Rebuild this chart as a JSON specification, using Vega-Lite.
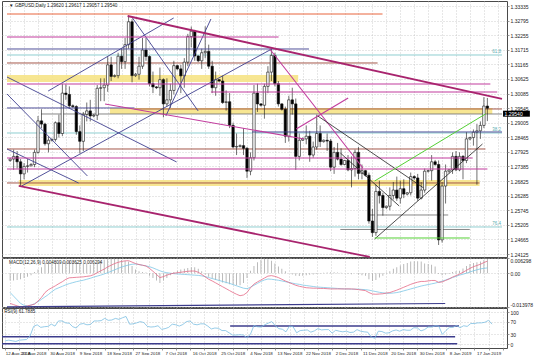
{
"$schema":"https://vega.github.io/schema/vega-lite/v6.json",
"padding":0,
"background":"#ffffff",
"spacing":1,
"bounds":"flush",
"config":{"view":{"stroke":"#4a4a4a","strokeWidth":1},"font":"Liberation Sans","axis":{"labelOverlap":false}},
"datasets":{
"bars":[
{"i":0,"o":1.2760,"h":1.2768,"l":1.2755,"c":1.2765,"m":-0.0125,"s":-0.0080,"d":-0.0030,"r":10},
{"i":1,"o":1.2765,"h":1.2800,"l":1.2725,"c":1.2775,"m":-0.0130,"s":-0.0095,"d":-0.0030,"r":12},
{"i":2,"o":1.2775,"h":1.2795,"l":1.2730,"c":1.2755,"m":-0.0135,"s":-0.0110,"d":-0.0028,"r":10},
{"i":3,"o":1.2755,"h":1.2765,"l":1.2662,"c":1.2710,"m":-0.0139,"s":-0.0125,"d":-0.0025,"r":8},
{"i":4,"o":1.2710,"h":1.2750,"l":1.2690,"c":1.2738,"m":-0.0138,"s":-0.0133,"d":-0.0020,"r":12},
{"i":5,"o":1.2738,"h":1.2765,"l":1.2715,"c":1.2740,"m":-0.0135,"s":-0.0135,"d":-0.0015,"r":13},
{"i":6,"o":1.2740,"h":1.2750,"l":1.2738,"c":1.2745,"m":-0.0132,"s":-0.0132,"d":-0.0008,"r":14},
{"i":7,"o":1.2745,"h":1.2800,"l":1.2735,"c":1.2790,"m":-0.0128,"s":-0.0126,"d":0.0005,"r":25},
{"i":8,"o":1.2790,"h":1.2925,"l":1.2785,"c":1.2907,"m":-0.0115,"s":-0.0118,"d":0.0015,"r":55},
{"i":9,"o":1.2907,"h":1.2950,"l":1.2880,"c":1.2895,"m":-0.0100,"s":-0.0108,"d":0.0025,"r":60},
{"i":10,"o":1.2895,"h":1.2900,"l":1.2815,"c":1.2822,"m":-0.0080,"s":-0.0098,"d":0.0040,"r":52},
{"i":11,"o":1.2822,"h":1.2850,"l":1.2790,"c":1.2835,"m":-0.0068,"s":-0.0088,"d":0.0045,"r":54},
{"i":12,"o":1.2835,"h":1.2842,"l":1.2830,"c":1.2838,"m":-0.0060,"s":-0.0076,"d":0.0045,"r":55},
{"i":13,"o":1.2838,"h":1.2905,"l":1.2830,"c":1.2900,"m":-0.0052,"s":-0.0066,"d":0.0042,"r":62},
{"i":14,"o":1.2900,"h":1.2930,"l":1.2845,"c":1.2860,"m":-0.0043,"s":-0.0060,"d":0.0045,"r":56},
{"i":15,"o":1.2860,"h":1.3045,"l":1.2850,"c":1.3010,"m":-0.0035,"s":-0.0054,"d":0.0048,"r":72},
{"i":16,"o":1.3010,"h":1.3043,"l":1.2985,"c":1.3005,"m":-0.0025,"s":-0.0048,"d":0.0050,"r":72},
{"i":17,"o":1.3005,"h":1.3035,"l":1.2955,"c":1.2963,"m":-0.0019,"s":-0.0043,"d":0.0052,"r":66},
{"i":18,"o":1.2963,"h":1.2968,"l":1.2955,"c":1.2960,"m":-0.0018,"s":-0.0039,"d":0.0050,"r":65},
{"i":19,"o":1.2960,"h":1.2965,"l":1.2855,"c":1.2867,"m":-0.0017,"s":-0.0035,"d":0.0045,"r":54},
{"i":20,"o":1.2867,"h":1.2890,"l":1.2786,"c":1.2831,"m":-0.0016,"s":-0.0032,"d":0.0042,"r":50},
{"i":21,"o":1.2831,"h":1.2940,"l":1.2795,"c":1.2931,"m":-0.0015,"s":-0.0029,"d":0.0040,"r":62},
{"i":22,"o":1.2931,"h":1.2975,"l":1.2905,"c":1.2944,"m":-0.0013,"s":-0.0025,"d":0.0038,"r":64},
{"i":23,"o":1.2944,"h":1.2985,"l":1.2905,"c":1.2925,"m":-0.0011,"s":-0.0021,"d":0.0035,"r":60},
{"i":24,"o":1.2925,"h":1.2932,"l":1.2920,"c":1.2928,"m":-0.0006,"s":-0.0016,"d":0.0038,"r":61},
{"i":25,"o":1.2928,"h":1.3040,"l":1.2910,"c":1.3028,"m":0.0002,"s":-0.0012,"d":0.0045,"r":72},
{"i":26,"o":1.3028,"h":1.3065,"l":1.2980,"c":1.3030,"m":0.0010,"s":-0.0008,"d":0.0052,"r":72},
{"i":27,"o":1.3030,"h":1.3065,"l":1.2980,"c":1.3040,"m":0.0017,"s":-0.0003,"d":0.0056,"r":73},
{"i":28,"o":1.3040,"h":1.3145,"l":1.3015,"c":1.3115,"m":0.0026,"s":0.0002,"d":0.0058,"r":80},
{"i":29,"o":1.3115,"h":1.3145,"l":1.3055,"c":1.3072,"m":0.0033,"s":0.0008,"d":0.0060,"r":74},
{"i":30,"o":1.3072,"h":1.3080,"l":1.3068,"c":1.3075,"m":0.0040,"s":0.0014,"d":0.0060,"r":75},
{"i":31,"o":1.3075,"h":1.3160,"l":1.3065,"c":1.3147,"m":0.0045,"s":0.0020,"d":0.0058,"r":80},
{"i":32,"o":1.3147,"h":1.3175,"l":1.3100,"c":1.3127,"m":0.0049,"s":0.0026,"d":0.0055,"r":77},
{"i":33,"o":1.3127,"h":1.3215,"l":1.3100,"c":1.3190,"m":0.0051,"s":0.0030,"d":0.0052,"r":82},
{"i":34,"o":1.3190,"h":1.3298,"l":1.3175,"c":1.3275,"m":0.0052,"s":0.0034,"d":0.0048,"r":86},
{"i":35,"o":1.3275,"h":1.3285,"l":1.3050,"c":1.3075,"m":0.0046,"s":0.0037,"d":0.0030,"r":62},
{"i":36,"o":1.3075,"h":1.3085,"l":1.3070,"c":1.3080,"m":0.0040,"s":0.0038,"d":0.0015,"r":63},
{"i":37,"o":1.3080,"h":1.3145,"l":1.3060,"c":1.3110,"m":0.0036,"s":0.0036,"d":0.0008,"r":66},
{"i":38,"o":1.3110,"h":1.3215,"l":1.3100,"c":1.3170,"m":0.0033,"s":0.0033,"d":0.0005,"r":70},
{"i":39,"o":1.3170,"h":1.3215,"l":1.3130,"c":1.3146,"m":0.0030,"s":0.0030,"d":0.0003,"r":67},
{"i":40,"o":1.3146,"h":1.3150,"l":1.3035,"c":1.3045,"m":0.0020,"s":0.0027,"d":-0.0010,"r":55},
{"i":41,"o":1.3045,"h":1.3090,"l":1.3010,"c":1.3033,"m":0.0008,"s":0.0022,"d":-0.0020,"r":53},
{"i":42,"o":1.3033,"h":1.3036,"l":1.3025,"c":1.3030,"m":-0.0005,"s":0.0016,"d":-0.0030,"r":54},
{"i":43,"o":1.3030,"h":1.3105,"l":1.3000,"c":1.3060,"m":-0.0018,"s":0.0010,"d":-0.0040,"r":57},
{"i":44,"o":1.3060,"h":1.3065,"l":1.2920,"c":1.2970,"m":-0.0014,"s":0.0005,"d":-0.0030,"r":46},
{"i":45,"o":1.2970,"h":1.3065,"l":1.2960,"c":1.2985,"m":-0.0008,"s":0.0002,"d":-0.0020,"r":48},
{"i":46,"o":1.2985,"h":1.3045,"l":1.2955,"c":1.3020,"m":-0.0003,"s":0.0000,"d":-0.0008,"r":52},
{"i":47,"o":1.3020,"h":1.3130,"l":1.3005,"c":1.3112,"m":0.0000,"s":-0.0002,"d":0.0005,"r":62},
{"i":48,"o":1.3112,"h":1.3115,"l":1.3095,"c":1.3100,"m":0.0002,"s":-0.0003,"d":0.0010,"r":60},
{"i":49,"o":1.3100,"h":1.3115,"l":1.3010,"c":1.3074,"m":0.0004,"s":-0.0004,"d":0.0015,"r":56},
{"i":50,"o":1.3074,"h":1.3140,"l":1.3030,"c":1.3125,"m":0.0006,"s":-0.0005,"d":0.0018,"r":61},
{"i":51,"o":1.3125,"h":1.3230,"l":1.3110,"c":1.3220,"m":0.0008,"s":-0.0006,"d":0.0022,"r":70},
{"i":52,"o":1.3220,"h":1.3257,"l":1.3180,"c":1.3240,"m":0.0009,"s":-0.0007,"d":0.0025,"r":72},
{"i":53,"o":1.3240,"h":1.3245,"l":1.3130,"c":1.3148,"m":0.0009,"s":-0.0008,"d":0.0025,"r":62},
{"i":54,"o":1.3148,"h":1.3150,"l":1.3125,"c":1.3130,"m":0.0004,"s":-0.0009,"d":0.0018,"r":60},
{"i":55,"o":1.3130,"h":1.3175,"l":1.3100,"c":1.3160,"m":-0.0005,"s":-0.0011,"d":0.0008,"r":63},
{"i":56,"o":1.3160,"h":1.3258,"l":1.3140,"c":1.3165,"m":-0.0015,"s":-0.0014,"d":-0.0005,"r":63},
{"i":57,"o":1.3165,"h":1.3190,"l":1.3100,"c":1.3110,"m":-0.0025,"s":-0.0018,"d":-0.0015,"r":56},
{"i":58,"o":1.3110,"h":1.3130,"l":1.3010,"c":1.3030,"m":-0.0032,"s":-0.0022,"d":-0.0022,"r":47},
{"i":59,"o":1.3030,"h":1.3090,"l":1.3000,"c":1.3060,"m":-0.0040,"s":-0.0026,"d":-0.0028,"r":50},
{"i":60,"o":1.3060,"h":1.3062,"l":1.3050,"c":1.3055,"m":-0.0048,"s":-0.0030,"d":-0.0033,"r":49},
{"i":61,"o":1.3055,"h":1.3075,"l":1.2970,"c":1.2975,"m":-0.0056,"s":-0.0034,"d":-0.0038,"r":42},
{"i":62,"o":1.2975,"h":1.3020,"l":1.2945,"c":1.2978,"m":-0.0064,"s":-0.0038,"d":-0.0042,"r":42},
{"i":63,"o":1.2978,"h":1.3010,"l":1.2880,"c":1.2890,"m":-0.0072,"s":-0.0042,"d":-0.0046,"r":35},
{"i":64,"o":1.2890,"h":1.2900,"l":1.2805,"c":1.2810,"m":-0.0080,"s":-0.0047,"d":-0.0048,"r":28},
{"i":65,"o":1.2810,"h":1.2860,"l":1.2780,"c":1.2812,"m":-0.0087,"s":-0.0052,"d":-0.0050,"r":28},
{"i":66,"o":1.2812,"h":1.2820,"l":1.2808,"c":1.2815,"m":-0.0093,"s":-0.0057,"d":-0.0050,"r":29},
{"i":67,"o":1.2815,"h":1.2880,"l":1.2780,"c":1.2805,"m":-0.0090,"s":-0.0062,"d":-0.0040,"r":28},
{"i":68,"o":1.2805,"h":1.2810,"l":1.2695,"c":1.2720,"m":-0.0080,"s":-0.0064,"d":-0.0020,"r":20},
{"i":69,"o":1.2720,"h":1.2790,"l":1.2705,"c":1.2770,"m":-0.0060,"s":-0.0058,"d":0.0010,"r":30},
{"i":70,"o":1.2770,"h":1.3040,"l":1.2760,"c":1.3010,"m":-0.0045,"s":-0.0050,"d":0.0030,"r":58},
{"i":71,"o":1.3010,"h":1.3045,"l":1.2940,"c":1.2970,"m":-0.0036,"s":-0.0042,"d":0.0045,"r":54},
{"i":72,"o":1.2970,"h":1.2972,"l":1.2960,"c":1.2965,"m":-0.0028,"s":-0.0034,"d":0.0055,"r":53},
{"i":73,"o":1.2965,"h":1.3045,"l":1.2915,"c":1.3035,"m":-0.0020,"s":-0.0028,"d":0.0060,"r":60},
{"i":74,"o":1.3035,"h":1.3110,"l":1.3010,"c":1.3088,"m":-0.0012,"s":-0.0024,"d":0.0058,"r":65},
{"i":75,"o":1.3088,"h":1.3175,"l":1.3055,"c":1.3150,"m":-0.0010,"s":-0.0025,"d":0.0052,"r":70},
{"i":76,"o":1.3150,"h":1.3160,"l":1.3035,"c":1.3045,"m":-0.0013,"s":-0.0027,"d":0.0040,"r":57},
{"i":77,"o":1.3045,"h":1.3055,"l":1.2960,"c":1.2970,"m":-0.0018,"s":-0.0029,"d":0.0028,"r":48},
{"i":78,"o":1.2970,"h":1.2972,"l":1.2945,"c":1.2950,"m":-0.0025,"s":-0.0032,"d":0.0018,"r":46},
{"i":79,"o":1.2950,"h":1.2960,"l":1.2825,"c":1.2850,"m":-0.0032,"s":-0.0035,"d":0.0008,"r":38},
{"i":80,"o":1.2850,"h":1.3000,"l":1.2830,"c":1.2985,"m":-0.0038,"s":-0.0038,"d":0.0000,"r":56},
{"i":81,"o":1.2985,"h":1.3030,"l":1.2930,"c":1.2970,"m":-0.0044,"s":-0.0041,"d":-0.0005,"r":54},
{"i":82,"o":1.2970,"h":1.2990,"l":1.2725,"c":1.2775,"m":-0.0050,"s":-0.0044,"d":-0.0010,"r":35},
{"i":83,"o":1.2775,"h":1.2860,"l":1.2760,"c":1.2835,"m":-0.0054,"s":-0.0046,"d":-0.0012,"r":42},
{"i":84,"o":1.2835,"h":1.2845,"l":1.2832,"c":1.2840,"m":-0.0057,"s":-0.0049,"d":-0.0010,"r":43},
{"i":85,"o":1.2840,"h":1.2890,"l":1.2820,"c":1.2850,"m":-0.0060,"s":-0.0051,"d":-0.0008,"r":44},
{"i":86,"o":1.2850,"h":1.2870,"l":1.2755,"c":1.2780,"m":-0.0061,"s":-0.0053,"d":-0.0006,"r":37},
{"i":87,"o":1.2780,"h":1.2830,"l":1.2770,"c":1.2810,"m":-0.0062,"s":-0.0055,"d":-0.0005,"r":41},
{"i":88,"o":1.2810,"h":1.2930,"l":1.2800,"c":1.2860,"m":-0.0062,"s":-0.0057,"d":-0.0003,"r":48},
{"i":89,"o":1.2860,"h":1.2890,"l":1.2810,"c":1.2830,"m":-0.0063,"s":-0.0058,"d":-0.0002,"r":44},
{"i":90,"o":1.2830,"h":1.2838,"l":1.2826,"c":1.2835,"m":-0.0063,"s":-0.0059,"d":0.0002,"r":45},
{"i":91,"o":1.2835,"h":1.2860,"l":1.2795,"c":1.2832,"m":-0.0064,"s":-0.0060,"d":0.0003,"r":45},
{"i":92,"o":1.2832,"h":1.2840,"l":1.2720,"c":1.2735,"m":-0.0065,"s":-0.0061,"d":0.0004,"r":34},
{"i":93,"o":1.2735,"h":1.2810,"l":1.2710,"c":1.2790,"m":-0.0065,"s":-0.0062,"d":0.0004,"r":43},
{"i":94,"o":1.2790,"h":1.2825,"l":1.2760,"c":1.2765,"m":-0.0065,"s":-0.0063,"d":0.0003,"r":40},
{"i":95,"o":1.2765,"h":1.2805,"l":1.2740,"c":1.2745,"m":-0.0065,"s":-0.0064,"d":0.0002,"r":38},
{"i":96,"o":1.2745,"h":1.2762,"l":1.2742,"c":1.2760,"m":-0.0065,"s":-0.0065,"d":0.0000,"r":40},
{"i":97,"o":1.2760,"h":1.2780,"l":1.2720,"c":1.2725,"m":-0.0065,"s":-0.0065,"d":-0.0002,"r":36},
{"i":98,"o":1.2725,"h":1.2775,"l":1.2660,"c":1.2730,"m":-0.0065,"s":-0.0066,"d":-0.0004,"r":37},
{"i":99,"o":1.2730,"h":1.2800,"l":1.2700,"c":1.2790,"m":-0.0066,"s":-0.0066,"d":0.0000,"r":45},
{"i":100,"o":1.2790,"h":1.2810,"l":1.2690,"c":1.2712,"m":-0.0068,"s":-0.0066,"d":-0.0005,"r":40},
{"i":101,"o":1.2712,"h":1.2745,"l":1.2690,"c":1.2722,"m":-0.0070,"s":-0.0067,"d":-0.0008,"r":38},
{"i":102,"o":1.2722,"h":1.2725,"l":1.2700,"c":1.2705,"m":-0.0072,"s":-0.0068,"d":-0.0010,"r":37},
{"i":103,"o":1.2705,"h":1.2715,"l":1.2525,"c":1.2535,"m":-0.0080,"s":-0.0070,"d":-0.0025,"r":22},
{"i":104,"o":1.2535,"h":1.2580,"l":1.2476,"c":1.2492,"m":-0.0086,"s":-0.0073,"d":-0.0032,"r":18},
{"i":105,"o":1.2492,"h":1.2670,"l":1.2480,"c":1.2645,"m":-0.0087,"s":-0.0076,"d":-0.0028,"r":40},
{"i":106,"o":1.2645,"h":1.2685,"l":1.2600,"c":1.2630,"m":-0.0086,"s":-0.0079,"d":-0.0018,"r":39},
{"i":107,"o":1.2630,"h":1.2640,"l":1.2555,"c":1.2585,"m":-0.0085,"s":-0.0081,"d":-0.0010,"r":34},
{"i":108,"o":1.2585,"h":1.2592,"l":1.2580,"c":1.2590,"m":-0.0082,"s":-0.0083,"d":0.0003,"r":35},
{"i":109,"o":1.2590,"h":1.2660,"l":1.2575,"c":1.2630,"m":-0.0080,"s":-0.0083,"d":0.0008,"r":41},
{"i":110,"o":1.2630,"h":1.2680,"l":1.2615,"c":1.2650,"m":-0.0075,"s":-0.0082,"d":0.0018,"r":44},
{"i":111,"o":1.2650,"h":1.2700,"l":1.2610,"c":1.2620,"m":-0.0070,"s":-0.0080,"d":0.0025,"r":40},
{"i":112,"o":1.2620,"h":1.2685,"l":1.2600,"c":1.2655,"m":-0.0064,"s":-0.0077,"d":0.0032,"r":45},
{"i":113,"o":1.2655,"h":1.2690,"l":1.2620,"c":1.2635,"m":-0.0058,"s":-0.0073,"d":0.0038,"r":43},
{"i":114,"o":1.2635,"h":1.2642,"l":1.2630,"c":1.2640,"m":-0.0052,"s":-0.0069,"d":0.0042,"r":43},
{"i":115,"o":1.2640,"h":1.2715,"l":1.2630,"c":1.2700,"m":-0.0046,"s":-0.0065,"d":0.0048,"r":51},
{"i":116,"o":1.2700,"h":1.2705,"l":1.2688,"c":1.2695,"m":-0.0041,"s":-0.0061,"d":0.0050,"r":50},
{"i":117,"o":1.2695,"h":1.2710,"l":1.2610,"c":1.2620,"m":-0.0037,"s":-0.0057,"d":0.0050,"r":41},
{"i":118,"o":1.2620,"h":1.2680,"l":1.2615,"c":1.2650,"m":-0.0034,"s":-0.0053,"d":0.0048,"r":45},
{"i":119,"o":1.2650,"h":1.2730,"l":1.2640,"c":1.2720,"m":-0.0034,"s":-0.0050,"d":0.0040,"r":53},
{"i":120,"o":1.2720,"h":1.2725,"l":1.2715,"c":1.2722,"m":-0.0032,"s":-0.0047,"d":0.0038,"r":53},
{"i":121,"o":1.2722,"h":1.2780,"l":1.2685,"c":1.2755,"m":-0.0030,"s":-0.0044,"d":0.0035,"r":57},
{"i":122,"o":1.2755,"h":1.2762,"l":1.2740,"c":1.2745,"m":-0.0030,"s":-0.0041,"d":0.0028,"r":56},
{"i":123,"o":1.2745,"h":1.2760,"l":1.2446,"c":1.2465,"m":-0.0038,"s":-0.0037,"d":-0.0003,"r":30},
{"i":124,"o":1.2465,"h":1.2680,"l":1.2455,"c":1.2665,"m":-0.0036,"s":-0.0033,"d":-0.0008,"r":42},
{"i":125,"o":1.2665,"h":1.2745,"l":1.2600,"c":1.2720,"m":-0.0030,"s":-0.0028,"d":-0.0005,"r":52},
{"i":126,"o":1.2720,"h":1.2728,"l":1.2712,"c":1.2725,"m":-0.0024,"s":-0.0023,"d":-0.0003,"r":52},
{"i":127,"o":1.2725,"h":1.2790,"l":1.2710,"c":1.2775,"m":-0.0016,"s":-0.0018,"d":0.0005,"r":58},
{"i":128,"o":1.2775,"h":1.2795,"l":1.2720,"c":1.2725,"m":-0.0010,"s":-0.0013,"d":0.0008,"r":51},
{"i":129,"o":1.2725,"h":1.2790,"l":1.2720,"c":1.2775,"m":-0.0004,"s":-0.0008,"d":0.0010,"r":57},
{"i":130,"o":1.2775,"h":1.2780,"l":1.2690,"c":1.2760,"m":0.0004,"s":-0.0004,"d":0.0020,"r":55},
{"i":131,"o":1.2760,"h":1.2865,"l":1.2750,"c":1.2840,"m":0.0012,"s":0.0000,"d":0.0030,"r":64},
{"i":132,"o":1.2840,"h":1.2848,"l":1.2835,"c":1.2845,"m":0.0020,"s":0.0005,"d":0.0038,"r":64},
{"i":133,"o":1.2845,"h":1.2875,"l":1.2815,"c":1.2865,"m":0.0027,"s":0.0010,"d":0.0042,"r":66},
{"i":134,"o":1.2865,"h":1.2895,"l":1.2670,"c":1.2870,"m":0.0032,"s":0.0014,"d":0.0045,"r":66},
{"i":135,"o":1.2870,"h":1.2905,"l":1.2840,"c":1.2890,"m":0.0037,"s":0.0018,"d":0.0048,"r":68},
{"i":136,"o":1.2890,"h":1.2995,"l":1.2880,"c":1.2962,"m":0.0044,"s":0.0020,"d":0.0055,"r":74},
{"i":137,"o":1.2962,"h":1.2992,"l":1.2906,"c":1.2954,"m":0.0050,"s":0.0022,"d":0.0060,"r":62}
],
"bands":[
{"i":-0.9,"p":1.30513,"i2":82.69,"p2":1.30773},
{"i":28.65,"p":1.29325,"i2":138.42,"p2":1.29548},
{"i":2.48,"p":1.26651,"i2":134.76,"p2":1.26874}
],
"orange":[{"i":-0.9,"p":1.33038,"i2":106.9,"p2":1.33038}],
"magThin":[
{"i":-0.9,"p":1.32184,"i2":77.06,"p2":1.32184},
{"i":-0.9,"p":1.30439,"i2":137.86,"p2":1.30439},
{"i":57.64,"p":1.30142,"i2":139.83,"p2":1.30142},
{"i":-0.9,"p":1.27691,"i2":132.79,"p2":1.27691},
{"i":-0.9,"p":1.27283,"i2":137.01,"p2":1.27283},
{"i":27.24,"p":1.29696,"i2":84.38,"p2":1.28397},
{"i":74.53,"p":1.31739,"i2":101.27,"p2":1.2732},
{"i":82.13,"p":1.28768,"i2":97.04,"p2":1.29919}
],
"magThick":[
{"i":33.72,"p":1.32964,"i2":141.2,"p2":1.29882},
{"i":2.48,"p":1.26651,"i2":103.24,"p2":1.24015}
],
"navy":[
{"i":-0.9,"p":1.31739,"i2":85.79,"p2":1.31739},
{"i":-0.9,"p":1.29548,"i2":35.69,"p2":1.29548},
{"i":69.46,"p":1.28657,"i2":141.2,"p2":1.28657},
{"i":3.32,"p":1.26651,"i2":75.09,"p2":1.31739},
{"i":10.92,"p":1.30179,"i2":46.95,"p2":1.3289},
{"i":35.12,"p":1.3289,"i2":53.98,"p2":1.29436},
{"i":-0.9,"p":1.30699,"i2":47.79,"p2":1.27543},
{"i":57.64,"p":1.32853,"i2":44.7,"p2":1.29251},
{"i":-0.9,"p":1.30068,"i2":22.18,"p2":1.27023},
{"i":-0.9,"p":1.28025,"i2":19.65,"p2":1.26763}
],
"teal":[
{"i":-0.9,"p":1.31516,"i2":141.2,"p2":1.31516},
{"i":-0.9,"p":1.28619,"i2":141.2,"p2":1.28619},
{"i":-0.9,"p":1.25129,"i2":141.2,"p2":1.25129}
],
"brown":[
{"i":-0.9,"p":1.31219,"i2":105.49,"p2":1.31219},
{"i":-0.9,"p":1.28025,"i2":136.45,"p2":1.28025},
{"i":-0.9,"p":1.26763,"i2":134.76,"p2":1.26763},
{"i":35.69,"p":1.29511,"i2":141.2,"p2":1.29511}
],
"grey":[
{"i":8.95,"p":1.29325,"i2":141.2,"p2":1.29325},
{"i":103.24,"p":1.25574,"i2":125.76,"p2":1.25574},
{"i":94.79,"p":1.25036,"i2":131.95,"p2":1.25036}
],
"black":[
{"i":104.65,"p":1.24683,"i2":135.6,"p2":1.28211},
{"i":88.32,"p":1.29251,"i2":118.72,"p2":1.26577},
{"i":94.79,"p":1.27877,"i2":111.68,"p2":1.25909}
],
"green":[
{"i":104.65,"p":1.26837,"i2":136.45,"p2":1.29325},
{"i":104.65,"p":1.2472,"i2":131.95,"p2":1.2472}
],
"macdTrend":[{"i":-0.9,"v":-0.0139,"i2":124.9,"v2":-0.01253}],
"rsiLines":[
{"i":63.3,"v":56.25,"i2":127.7,"v2":56.25},
{"i":-0.9,"v":22.8,"i2":126.6,"v2":22.8},
{"i":-0.9,"v":0.9,"i2":127.2,"v2":0.9}
]
},
"vconcat":[
{
"width":505,"height":256,
"resolve":{"axis":{"x":"independent","y":"independent"}},
"layer":[
{"data":{"name":"bands"},"mark":{"type":"rect","color":"#f6e386","opacity":0.9},"encoding":{"x":{"field":"i","type":"quantitative","scale":{"domain":[-0.9,141.2],"nice":false,"zero":false},"axis":{"values":[0,4,8,12,16,20,24,28,32,36,40,44,48,52,56,60,64,68,72,76,80,84,88,92,96,100,104,108,112,116,120,124,128,132,136,140],"labels":false,"ticks":false,"domain":false,"grid":true,"gridDash":[1,2],"gridColor":"#bcbcbc","gridWidth":0.7,"title":null}},"x2":{"field":"i2"},"y":{"field":"p","type":"quantitative","scale":{"domain":[1.24014,1.33521],"nice":false,"zero":false},"axis":{"orient":"right","values":[1.33335,1.32795,1.32255,1.31715,1.31165,1.30625,1.30085,1.29545,1.29005,1.28465,1.27925,1.27385,1.26825,1.26285,1.25745,1.25205,1.24665,1.24125],"format":".5f","labelFontSize":5,"labelColor":"#1a1a1a","tickSize":2,"tickColor":"#555555","tickWidth":0.6,"domain":false,"grid":true,"gridDash":[1,2],"gridColor":"#bcbcbc","gridWidth":0.7,"title":null,"labelPadding":1,"labelOverlap":false}},"y2":{"field":"p2"}}},
{"data":{"name":"teal"},"mark":{"type":"rule","color":"#72c2c4","strokeWidth":0.8},"encoding":{"x":{"field":"i","type":"quantitative","axis":null},"x2":{"field":"i2"},"y":{"field":"p","type":"quantitative","axis":null},"y2":{"field":"p2"}}},
{"data":{"name":"grey"},"mark":{"type":"rule","color":"#7a7a7a","strokeWidth":0.9},"encoding":{"x":{"field":"i","type":"quantitative","axis":null},"x2":{"field":"i2"},"y":{"field":"p","type":"quantitative","axis":null},"y2":{"field":"p2"}}},
{"data":{"name":"brown"},"mark":{"type":"rule","color":"#a4584a","strokeWidth":1},"encoding":{"x":{"field":"i","type":"quantitative","axis":null},"x2":{"field":"i2"},"y":{"field":"p","type":"quantitative","axis":null},"y2":{"field":"p2"}}},
{"data":{"name":"orange"},"mark":{"type":"rule","color":"#e8643c","strokeWidth":1},"encoding":{"x":{"field":"i","type":"quantitative","axis":null},"x2":{"field":"i2"},"y":{"field":"p","type":"quantitative","axis":null},"y2":{"field":"p2"}}},
{"data":{"name":"bars"},"mark":{"type":"rule","color":"#111111","strokeWidth":0.6},"encoding":{"x":{"field":"i","type":"quantitative","axis":null},"y":{"field":"l","type":"quantitative","axis":null},"y2":{"field":"h"}}},
{"data":{"name":"bars"},"mark":{"type":"bar","size":2.4,"stroke":"#111111","strokeWidth":0.6},"encoding":{"x":{"field":"i","type":"quantitative","axis":null},"y":{"field":"o","type":"quantitative","axis":null},"y2":{"field":"c"},"fill":{"condition":{"test":"datum.c < datum.o","value":"#000000"},"value":"#ffffff"}}},
{"data":{"name":"navy"},"mark":{"type":"rule","color":"#3e3e8e","strokeWidth":0.9},"encoding":{"x":{"field":"i","type":"quantitative","axis":null},"x2":{"field":"i2"},"y":{"field":"p","type":"quantitative","axis":null},"y2":{"field":"p2"}}},
{"data":{"name":"magThin"},"mark":{"type":"rule","color":"#c23c9e","strokeWidth":1.1},"encoding":{"x":{"field":"i","type":"quantitative","axis":null},"x2":{"field":"i2"},"y":{"field":"p","type":"quantitative","axis":null},"y2":{"field":"p2"}}},
{"data":{"name":"magThick"},"mark":{"type":"rule","color":"#a8246e","strokeWidth":1.8},"encoding":{"x":{"field":"i","type":"quantitative","axis":null},"x2":{"field":"i2"},"y":{"field":"p","type":"quantitative","axis":null},"y2":{"field":"p2"}}},
{"data":{"name":"black"},"mark":{"type":"rule","color":"#222222","strokeWidth":0.8},"encoding":{"x":{"field":"i","type":"quantitative","axis":null},"x2":{"field":"i2"},"y":{"field":"p","type":"quantitative","axis":null},"y2":{"field":"p2"}}},
{"data":{"name":"green"},"mark":{"type":"rule","color":"#55d035","strokeWidth":1},"encoding":{"x":{"field":"i","type":"quantitative","axis":null},"x2":{"field":"i2"},"y":{"field":"p","type":"quantitative","axis":null},"y2":{"field":"p2"}}},
{"data":{"values":[{"t":"61.8","p":1.31516},{"t":"38.2","p":1.28619},{"t":"76.4","p":1.25129}]},"mark":{"type":"text","align":"right","baseline":"bottom","fontSize":4.5,"color":"#5aaeb0","dy":-0.5},"encoding":{"x":{"datum":140.9,"type":"quantitative","axis":null},"y":{"field":"p","type":"quantitative","axis":null},"text":{"field":"t","type":"nominal"}}},
{"data":{"values":[{"t":"▼ GBPUSD,Daily  1.29620 1.29617 1.29057 1.29540"}]},"mark":{"type":"text","align":"left","baseline":"middle","fontSize":4.6,"color":"#222222"},"encoding":{"x":{"datum":-0.3,"type":"quantitative","axis":null},"y":{"datum":1.3334,"type":"quantitative","axis":null},"text":{"field":"t","type":"nominal"}}},
{"data":{"values":[{"t":"1.29540","p":1.2954}]},"mark":{"type":"rule","color":"#000000","strokeWidth":6,"yOffset":5.5},"encoding":{"x":{"datum":141.5,"type":"quantitative","axis":null},"x2":{"datum":149.2},"y":{"field":"p","type":"quantitative","axis":null}}},
{"data":{"values":[{"t":"1.29540","p":1.2954}]},"mark":{"type":"text","align":"left","baseline":"middle","fontSize":5,"color":"#ffffff","yOffset":5.5},"encoding":{"x":{"datum":141.95,"type":"quantitative","axis":null},"y":{"field":"p","type":"quantitative","axis":null},"text":{"field":"t","type":"nominal"}}}
]
},
{
"width":505,"height":49,
"resolve":{"axis":{"x":"independent","y":"independent"}},
"layer":[
{"data":{"name":"bars"},"mark":{"type":"bar","size":0.8,"color":"#a9a9a9"},"encoding":{"x":{"field":"i","type":"quantitative","scale":{"domain":[-0.9,141.2],"nice":false,"zero":false},"axis":{"values":[0,4,8,12,16,20,24,28,32,36,40,44,48,52,56,60,64,68,72,76,80,84,88,92,96,100,104,108,112,116,120,124,128,132,136,140],"labels":false,"ticks":false,"domain":false,"grid":true,"gridDash":[1,2],"gridColor":"#bcbcbc","gridWidth":0.7,"title":null}},"y":{"field":"d","type":"quantitative","scale":{"domain":[-0.013978,0.006298],"nice":false,"zero":false},"axis":{"orient":"right","values":[0.006298,0,-0.013978],"labelExpr":"datum.value === 0 ? '0.00' : replace(format(datum.value, '.6f'), '−', '-')","labelBaseline":{"condition":[{"test":"datum.value > 0.006","value":"top"},{"test":"datum.value < -0.013","value":"bottom"}],"value":"middle"},"labelFontSize":5,"labelColor":"#1a1a1a","tickSize":2,"tickColor":"#555555","tickWidth":0.6,"domain":false,"grid":true,"gridDash":[1,2],"gridColor":"#bcbcbc","gridWidth":0.7,"title":null,"labelPadding":1,"labelOverlap":false}},"y2":{"datum":0}}},
{"data":{"name":"bars"},"mark":{"type":"line","color":"#7ec6e6","strokeWidth":0.8},"encoding":{"x":{"field":"i","type":"quantitative","axis":null},"y":{"field":"s","type":"quantitative","axis":null}}},
{"data":{"name":"bars"},"mark":{"type":"line","color":"#e46a86","strokeWidth":0.8},"encoding":{"x":{"field":"i","type":"quantitative","axis":null},"y":{"field":"m","type":"quantitative","axis":null}}},
{"data":{"name":"macdTrend"},"mark":{"type":"rule","color":"#3c3c8c","strokeWidth":1.2},"encoding":{"x":{"field":"i","type":"quantitative","axis":null},"x2":{"field":"i2"},"y":{"field":"v","type":"quantitative","axis":null},"y2":{"field":"v2"}}},
{"data":{"values":[{"t":"MACD(12,26,9) 0.004809 0.003625 0.006294"}]},"mark":{"type":"text","align":"left","baseline":"middle","fontSize":4.6,"color":"#222222"},"encoding":{"x":{"datum":-0.3,"type":"quantitative","axis":null},"y":{"datum":0.0043,"type":"quantitative","axis":null},"text":{"field":"t","type":"nominal"}}}
]
},
{
"width":505,"height":40,
"resolve":{"axis":{"x":"independent","y":"independent"}},
"layer":[
{"data":{"name":"rsiLines"},"mark":{"type":"rule","color":"#3c3c8c","strokeWidth":1.4},"encoding":{"x":{"field":"i","type":"quantitative","scale":{"domain":[-0.9,141.2],"nice":false,"zero":false},"axis":{"values":[0,4,8,12,16,20,24,28,32,36,40,44,48,52,56,60,64,68,72,76,80,84,88,92,96,100,104,108,112,116,120,124,128,132,136,140],"labelExpr":"datum.value % 8 === 0 ? ['12 Aug 2018','21 Aug 2018','30 Aug 2018','9 Sep 2018','18 Sep 2018','27 Sep 2018','7 Oct 2018','16 Oct 2018','25 Oct 2018','4 Nov 2018','13 Nov 2018','22 Nov 2018','2 Dec 2018','11 Dec 2018','20 Dec 2018','30 Dec 2018','8 Jan 2019','17 Jan 2019'][datum.value / 8] : ''","labelFontSize":4.4,"labelColor":"#1a1a1a","labelAlign":{"condition":{"test":"datum.value === 0","value":"left"},"value":"center"},"labelOverlap":false,"labelBound":false,"labelFlush":false,"ticks":true,"tickSize":2,"tickColor":"#555555","tickWidth":0.6,"domain":false,"grid":true,"gridDash":[1,2],"gridColor":"#bcbcbc","gridWidth":0.7,"title":null,"labelPadding":1}},"x2":{"field":"i2"},"y":{"field":"v","type":"quantitative","scale":{"domain":[-12.5,112.5],"nice":false,"zero":false},"axis":{"orient":"right","values":[100,70,30,0],"labelFontSize":5,"labelColor":"#1a1a1a","tickSize":2,"tickColor":"#555555","tickWidth":0.6,"domain":false,"grid":true,"gridDash":[1,2],"gridColor":"#bcbcbc","gridWidth":0.7,"title":null,"labelPadding":1,"labelOverlap":false}},"y2":{"field":"v2"}}},
{"data":{"name":"bars"},"mark":{"type":"line","color":"#7cbfe2","strokeWidth":0.8},"encoding":{"x":{"field":"i","type":"quantitative","axis":null},"y":{"field":"r","type":"quantitative","axis":null}}},
{"data":{"values":[{"t":"RSI(9) 61.7885"}]},"mark":{"type":"text","align":"left","baseline":"middle","fontSize":4.6,"color":"#222222"},"encoding":{"x":{"datum":-0.3,"type":"quantitative","axis":null},"y":{"datum":100,"type":"quantitative","axis":null},"text":{"field":"t","type":"nominal"}}}
]
}
]
}
